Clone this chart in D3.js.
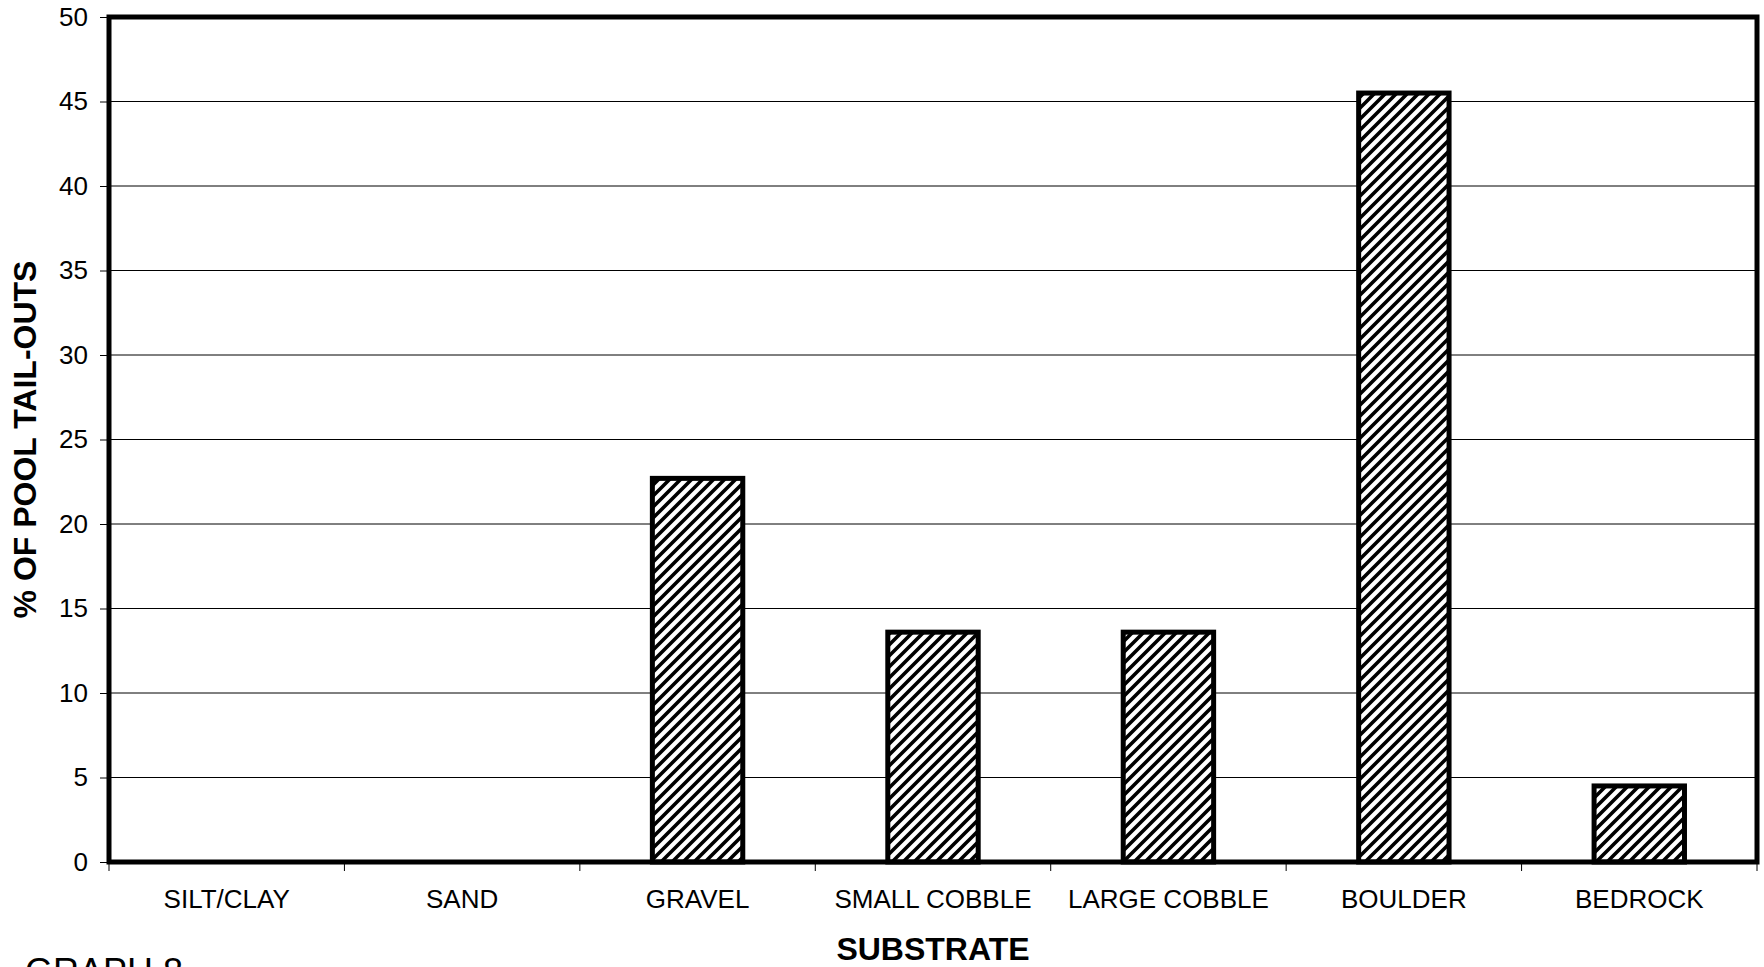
<!DOCTYPE html>
<html>
<head>
<meta charset="utf-8">
<script src="https://cdn.jsdelivr.net/npm/d3@7"></script>
<style>
  html, body { margin: 0; padding: 0; background: #fff; }
  svg { display: block; }
  text { font-family: "Liberation Sans", Arial, sans-serif; fill: #000; }
</style>
</head>
<body>
<svg id="chart" width="1764" height="967"></svg>
<script>
const categories = ["SILT/CLAY", "SAND", "GRAVEL", "SMALL COBBLE", "LARGE COBBLE", "BOULDER", "BEDROCK"];
const values = [0, 0, 22.7, 13.6, 13.6, 45.5, 4.5];
const yTicks = [0, 5, 10, 15, 20, 25, 30, 35, 40, 45, 50];
const xTitle = "SUBSTRATE";
const yTitle = "% OF POOL TAIL-OUTS";
const footnote = "GRAPH 8";

const W = 1764, H = 967;
const margin = { top: 17, right: 7, bottom: 105, left: 109 };
const iw = W - margin.left - margin.right;
const ih = H - margin.top - margin.bottom;

const svg = d3.select("#chart");
const defs = svg.append("defs");
const P = 11;
const pat = defs.append("pattern")
  .attr("id", "hatch").attr("patternUnits", "userSpaceOnUse")
  .attr("width", P).attr("height", P);
pat.append("rect").attr("width", P).attr("height", P).attr("fill", "#fff");
pat.append("path")
  .attr("d", `M-3,3 L3,-3 M0,${P} L${P},0 M${P-3},${P+3} L${P+3},${P-3}`)
  .attr("stroke", "#000").attr("stroke-width", 3.6);

const g = svg.append("g").attr("transform", `translate(${margin.left},${margin.top})`);

const x = d3.scaleBand().domain(categories).range([0, iw]).padding(0);
const y = d3.scaleLinear().domain([0, 50]).range([ih, 0]);

// gridlines
g.append("g").selectAll("line")
  .data(yTicks.filter(t => t > 0 && t < 50))
  .join("line")
  .attr("x1", 0).attr("x2", iw)
  .attr("y1", d => y(d)).attr("y2", d => y(d))
  .attr("stroke", "#000").attr("stroke-width", 1);

// y axis ticks & labels
const yAxis = d3.axisLeft(y).tickValues(yTicks).tickSize(9).tickPadding(12).tickFormat(d3.format("d"));
const ya = g.append("g").call(yAxis);
ya.select(".domain").remove();
ya.selectAll(".tick line").attr("stroke", "#000").attr("stroke-width", 1);
ya.selectAll(".tick text").attr("font-size", 26).attr("font-family", "'Liberation Sans', Arial, sans-serif");

// x axis ticks at band boundaries
const bounds = categories.map(c => x(c)).concat([iw]);
g.append("g").selectAll("line").data(bounds).join("line")
  .attr("x1", d => d).attr("x2", d => d)
  .attr("y1", ih).attr("y2", ih + 9)
  .attr("stroke", "#000").attr("stroke-width", 1);

// x labels
g.append("g").selectAll("text").data(categories).join("text")
  .attr("x", d => x(d) + x.bandwidth() / 2)
  .attr("y", ih + 46)
  .attr("text-anchor", "middle")
  .attr("font-size", 26)
  .text(d => d);

// bars
const barW = x.bandwidth() * 0.384;
g.append("g").selectAll("rect")
  .data(categories.map((c, i) => ({ c, v: values[i] })).filter(d => d.v > 0))
  .join("rect")
  .attr("x", d => x(d.c) + x.bandwidth() / 2 - barW / 2)
  .attr("y", d => y(d.v))
  .attr("width", barW)
  .attr("height", d => y(0) - y(d.v))
  .attr("fill", "url(#hatch)")
  .attr("stroke", "#000").attr("stroke-width", 5);

// frame
g.append("rect").attr("x", 0).attr("y", 0).attr("width", iw).attr("height", ih)
  .attr("fill", "none").attr("stroke", "#000").attr("stroke-width", 5);

// titles
svg.append("text")
  .attr("x", margin.left + iw / 2).attr("y", 960)
  .attr("text-anchor", "middle").attr("font-size", 32).attr("font-weight", "bold")
  .text(xTitle);

svg.append("text")
  .attr("transform", `translate(36,${margin.top + ih / 2}) rotate(-90)`)
  .attr("text-anchor", "middle").attr("font-size", 32).attr("font-weight", "bold")
  .text(yTitle);

svg.append("text")
  .attr("x", 25).attr("y", 984)
  .attr("font-size", 36)
  .text(footnote);
</script>
</body>
</html>
